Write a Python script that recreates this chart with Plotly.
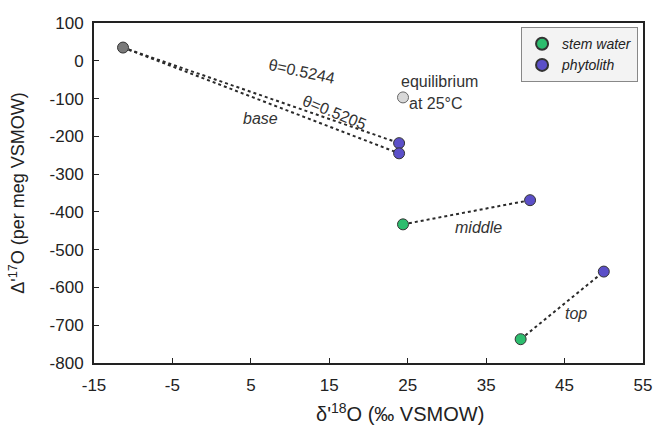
import plotly.graph_objects as go

# Data
stem_x = [24.4, 39.4]
stem_y = [-433, -737]
phyto_x = [23.9, 23.9, 40.6, 50.0]
phyto_y = [-218, -245, -369, -558]
source_x = [-11.3]
source_y = [35]
equil_x = [24.4]
equil_y = [-97]

x_ticks = [-15, -5, 5, 15, 25, 35, 45, 55]
y_ticks = [100, 0, -100, -200, -300, -400, -500, -600, -700, -800]
x_ticktext = [str(v) for v in x_ticks]
y_ticktext = [str(v) for v in y_ticks]

FONT = "Liberation Sans, Arial, sans-serif"
fig = go.Figure()

# dotted connecting lines
line_pairs = [
    ([source_x[0], phyto_x[0]], [source_y[0], phyto_y[0]]),
    ([source_x[0], phyto_x[1]], [source_y[0], phyto_y[1]]),
    ([stem_x[0], phyto_x[2]], [stem_y[0], phyto_y[2]]),
    ([stem_x[1], phyto_x[3]], [stem_y[1], phyto_y[3]]),
]
for lx, ly in line_pairs:
    fig.add_trace(go.Scatter(x=lx, y=ly, mode="lines", showlegend=False,
                             line=dict(color="#2a2a2a", width=2, dash="dot"),
                             hoverinfo="skip"))

mk_line = dict(color="#333333", width=1)
fig.add_trace(go.Scatter(x=source_x, y=source_y, mode="markers", showlegend=False,
                         marker=dict(size=11, color="#7a7a7a", line=mk_line)))
fig.add_trace(go.Scatter(x=equil_x, y=equil_y, mode="markers", showlegend=False,
                         marker=dict(size=11, color="#d8d8d8", line=dict(color="#666666", width=1))))
fig.add_trace(go.Scatter(x=stem_x, y=stem_y, mode="markers", name="<i>stem water</i>",
                         marker=dict(size=11, color="#2dbd6e", line=mk_line)))
fig.add_trace(go.Scatter(x=phyto_x, y=phyto_y, mode="markers", name="<i>phytolith</i>",
                         marker=dict(size=11, color="#5b4fc8", line=mk_line)))

ann_font = dict(family=FONT, size=16, color="#333333")
annotations = [
    dict(x=11.5, y=-29, text="θ=0.5244", textangle=12),
    dict(x=15.7, y=-136, text="θ=0.5205", textangle=22),
    dict(x=6.2, y=-152, text="<i>base</i>", textangle=0),
    dict(x=29.1, y=-56, text="equilibrium", textangle=0),
    dict(x=28.6, y=-112, text="at 25°C", textangle=0),
    dict(x=34.0, y=-441, text="<i>middle</i>", textangle=0),
    dict(x=46.5, y=-670, text="<i>top</i>", textangle=0),
]
for a in annotations:
    fig.add_annotation(x=a["x"], y=a["y"], text=a["text"], textangle=a["textangle"],
                       showarrow=False, font=ann_font, xref="x", yref="y")

# x-axis title (offset to the right, as in the reference)
fig.add_annotation(x=0.557, y=-0.147, xref="paper", yref="paper",
                   text="δ'<sup>18</sup>O (‰ VSMOW)", showarrow=False,
                   xanchor="center", yanchor="middle",
                   font=dict(family=FONT, size=20, color="#222222"))

axis_common = dict(showline=True, linecolor="#222222", linewidth=2, mirror=True,
                   ticks="inside", ticklen=5, tickcolor="#222222", tickwidth=1,
                   showgrid=False, zeroline=False, automargin=False,
                   tickfont=dict(family=FONT, size=17, color="#222222"))

fig.update_layout(
    width=657, height=430,
    margin=dict(l=94, r=14, t=23, b=67),
    paper_bgcolor="white", plot_bgcolor="white",
    font=dict(family=FONT, color="#222222"),
    xaxis=dict(range=[-15, 55], tickvals=x_ticks, ticktext=x_ticktext, ticklabelstandoff=6,
               **axis_common),
    yaxis=dict(range=[-800, 100], tickvals=y_ticks, ticktext=y_ticktext, ticklabelstandoff=5,
               title=dict(text="Δ'<sup>17</sup>O (per meg VSMOW)", font=dict(family=FONT, size=18), standoff=20),
               **axis_common),
    legend=dict(x=0.991, y=0.988, xanchor="right", yanchor="top",
                bgcolor="#f3f3f3", bordercolor="#888888", borderwidth=1,
                font=dict(family=FONT, size=14, color="#222222"),
                itemsizing="constant", tracegroupgap=0, itemwidth=30),
)

fig.write_html("out.html", config={"displayModeBar": False, "responsive": False})
with open("out.html", "r", encoding="utf-8") as f:
    html = f.read()
html = html.replace("<body>", '<body style="margin:0;padding:0;overflow:hidden">', 1)
with open("out.html", "w", encoding="utf-8") as f:
    f.write(html)
